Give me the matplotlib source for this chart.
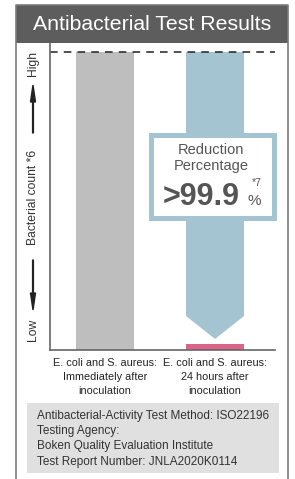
import matplotlib
matplotlib.use("Agg")
import matplotlib.pyplot as plt
from matplotlib.patches import Rectangle, Polygon, FancyArrow

plt.rcParams['font.family'] = ['Liberation Sans', 'DejaVu Sans']

# data
categories = ["E. coli and S. aureus:\nImmediately after\ninoculation",
              "E. coli and S. aureus:\n24 hours after\ninoculation"]
bacterial_count = [100, 2]          # relative count, initial = 100
reduction_text = ">99.9"
title = "Antibacterial Test Results"
ylabel = "Bacterial count *6"
notes = ["Antibacterial-Activity Test Method: ISO22196",
         "Testing Agency:",
         "Boken Quality Evaluation Institute",
         "Test Report Number: JNLA2020K0114"]

W, H = 295, 479
fig = plt.figure(figsize=(W / 100, H / 100), dpi=100)

def fx(px):
    return px / W

def fy(py):
    return 1 - py / H

# chart axes (pixel box: x 50..275, y 43..350)
ax = fig.add_axes([fx(50), fy(350), fx(275) - fx(50), fy(43) - fy(350)], zorder=1)
ax.set_facecolor("none")
ax.set_xlim(-0.5, 1.545)
ax.set_ylim(0, 103)
for s in ["top", "right"]:
    ax.spines[s].set_visible(False)
for s in ["left", "bottom"]:
    ax.spines[s].set_color("#666666")
    ax.spines[s].set_linewidth(1.2)
ax.set_xticks([])
ax.set_yticks([])

bw = 0.527
ax.bar(0, bacterial_count[0], width=bw, color="#bebebe")
ax.bar(1, bacterial_count[1], width=bw, color="#dc6389")
ax.axhline(bacterial_count[0], color="#222222", lw=1.1, ls=(0, (5, 4)))

# big reduction arrow
top = bacterial_count[0]
shaft_end = bacterial_count[1] + 9.4
tip = bacterial_count[1] + 1.7
arrow = Polygon([(1 - bw / 2, top), (1 + bw / 2, top), (1 + bw / 2, shaft_end),
                 (1, tip), (1 - bw / 2, shaft_end)], closed=True,
                facecolor="#a3c4d0", edgecolor="none")
ax.add_patch(arrow)

# overlay in pixel coordinates
ov = fig.add_axes([0, 0, 1, 1], zorder=2)
ov.set_xlim(0, W)
ov.set_ylim(H, 0)
ov.axis("off")
ov.patch.set_alpha(0)

# outer frame and title bar
ov.plot([16, 16, 288, 288], [481, 5, 5, 481], color="#7a7a7a", lw=1.2)
ov.add_patch(Rectangle((16, 5), 272, 38, facecolor="#5d5d5d", edgecolor="none"))
ov.text(152, 24.5, title, color="white", fontsize=15.3, ha="center", va="center")

# y label with arrows
ov.text(33, 63, "High", rotation=90, ha="center", va="center", fontsize=8.7, color="#333333")
ov.text(33, 330, "Low", rotation=90, ha="center", va="center", fontsize=8.7, color="#333333")
ov.text(33, 197, ylabel, rotation=90, ha="center", va="center", fontsize=8.7, color="#333333")
ov.add_patch(FancyArrow(33, 133, 0, -48, width=0.8, head_width=5, head_length=17,
                        length_includes_head=True, color="#222222"))
ov.add_patch(FancyArrow(33, 260, 0, 50, width=0.8, head_width=5, head_length=17,
                        length_includes_head=True, color="#222222"))

# reduction box
ov.add_patch(Rectangle((149, 133), 128, 88, facecolor="#a3c4d0", edgecolor="none"))
ov.add_patch(Rectangle((154, 138), 118, 78, facecolor="white", edgecolor="none"))
ov.text(211, 150, "Reduction", ha="center", va="center", fontsize=10.5, color="#555555")
ov.text(211, 166, "Percentage", ha="center", va="center", fontsize=10.5, color="#555555")
ov.text(201, 197, reduction_text, ha="center", va="center", fontsize=22, color="#555555",
        fontweight="bold")
ov.text(254, 201, "%", ha="center", va="center", fontsize=11, color="#555555")
ov.text(257, 183, "*7", ha="center", va="center", fontsize=7.5, color="#555555")

# category labels
for i, lab in enumerate(categories):
    xc = 50 + (i + 0.5) / (1.545 + 0.5) * 225
    ov.text(xc, 357.5, lab, ha="center", va="top", fontsize=7.8, color="#222222",
            linespacing=1.5)

# notes box
ov.add_patch(Rectangle((27, 403), 252, 70, facecolor="#e0e0e0", edgecolor="none"))
ov.text(37, 409.5, "\n".join(notes), ha="left", va="top", fontsize=8.5, color="#333333",
        linespacing=1.38)

fig.savefig("out.png", dpi=100)
